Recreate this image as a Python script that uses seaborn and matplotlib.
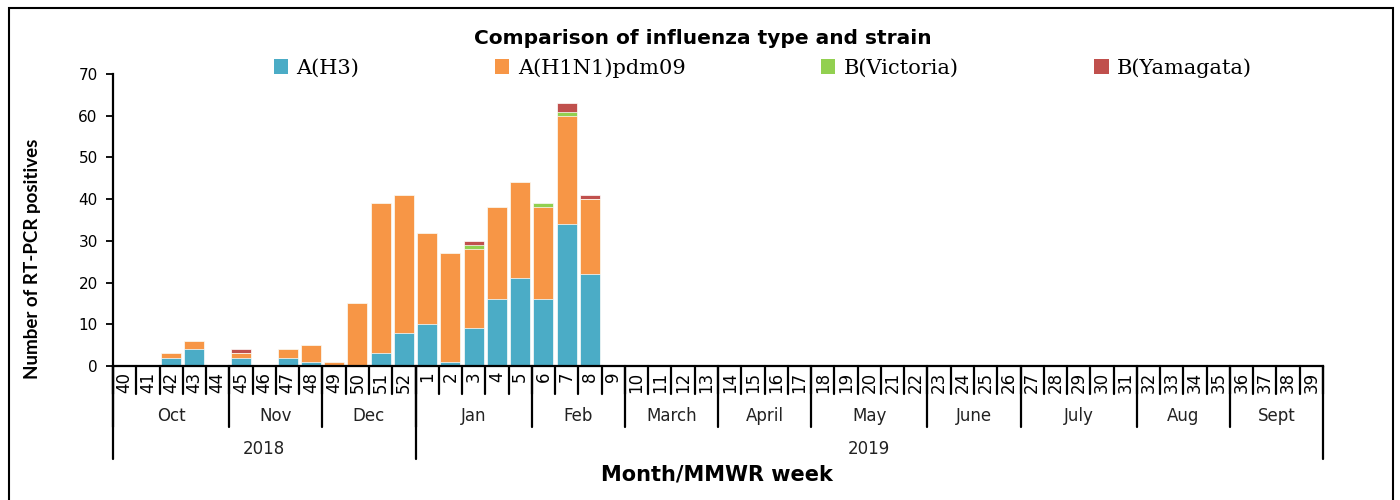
import numpy as np
import pandas as pd
import matplotlib.pyplot as plt
import matplotlib.transforms as mtransforms
from matplotlib.patches import Rectangle, Patch
import seaborn as sns

# MMWR weeks 40-52 (2018) and 1-39 (2019)
weeks = [str(w) for w in list(range(40, 53)) + list(range(1, 40))]
h3 = [0, 0, 2, 4, 0, 2, 0, 2, 1, 0, 0, 3, 8,
      10, 1, 9, 16, 21, 16, 34, 22] + [0] * 31
h1n1 = [0, 0, 1, 2, 0, 1, 0, 2, 4, 1, 15, 36, 33,
        22, 26, 19, 22, 23, 22, 26, 18] + [0] * 31
victoria = [0] * 13 + [0, 0, 1, 0, 0, 1, 1, 0] + [0] * 31
yamagata = [0] * 5 + [1] + [0] * 7 + [0, 0, 1, 0, 0, 0, 2, 1] + [0] * 31

months = ['Oct', 'Nov', 'Dec', 'Jan', 'Feb', 'March', 'April', 'May',
          'June', 'July', 'Aug', 'Sept']
month_weeks = [5, 4, 4, 5, 4, 4, 4, 5, 4, 5, 4, 4]
years = ['2018', '2019']
year_weeks = [13, 39]

series = ['A(H3)', 'A(H1N1)pdm09', 'B(Victoria)', 'B(Yamagata)']
colors = ['#4BACC6', '#F79646', '#92D050', '#C0504D']

df = pd.DataFrame({'week': weeks, 'A(H3)': h3, 'A(H1N1)pdm09': h1n1,
                   'B(Victoria)': victoria, 'B(Yamagata)': yamagata})
cum = df[series].cumsum(axis=1)

sns.set_theme(style='white')
plt.rcParams['font.family'] = ['DejaVu Sans']
for k in ['text.color', 'axes.labelcolor', 'xtick.color', 'ytick.color']:
    plt.rcParams[k] = 'black'

fig = plt.figure(figsize=(14, 5), dpi=100)
ax = fig.add_axes([113 / 1400, 134 / 500, 1210 / 1400, 292 / 500])

# stacked bars: draw cumulative totals from top layer down
for name, col in reversed(list(zip(series, colors))):
    sns.barplot(x=df['week'], y=cum[name], order=weeks, color=col,
                width=0.86, edgecolor='white', linewidth=0.5,
                saturation=1, ax=ax)

ax.set_ylim(0, 70)
ax.set_xlim(-0.5, len(weeks) - 0.5)
ax.set_yticks(range(0, 71, 10))
ax.tick_params(axis='y', direction='out', length=5, width=1.3, color='black',
               labelsize=11, pad=6, left=True)
ax.tick_params(axis='x', length=0, labelsize=12, pad=4)
ax.set_xticks(range(len(weeks)))
ax.set_xticklabels(weeks, rotation=90)
ax.set_xlabel('')
ax.set_ylabel('')
for s in ['top', 'right']:
    ax.spines[s].set_visible(False)
for s in ['left', 'bottom']:
    ax.spines[s].set_color('black')
    ax.spines[s].set_linewidth(1.6)

trans = mtransforms.blended_transform_factory(ax.transData, ax.transAxes)
lw = 1.6
for i in range(len(weeks) + 1):
    ax.plot([i - 0.5, i - 0.5], [0, -0.095], transform=trans, color='black',
            lw=lw, clip_on=False)
edges = np.concatenate([[0], np.cumsum(month_weeks)])
for i, m in enumerate(months):
    ax.plot([edges[i] - 0.5] * 2, [0, -0.21], transform=trans, color='black',
            lw=lw, clip_on=False)
    ax.text((edges[i] + edges[i + 1] - 1) / 2, -0.172, m, transform=trans,
            ha='center', va='center', fontsize=12, color='#222222')
yedges = np.concatenate([[0], np.cumsum(year_weeks)])
for i, y in enumerate(years):
    ax.plot([yedges[i] - 0.5] * 2, [0, -0.318], transform=trans,
            color='black', lw=lw, clip_on=False)
    ax.text((yedges[i] + yedges[i + 1] - 1) / 2, -0.284, y, transform=trans,
            ha='center', va='center', fontsize=12, color='#222222')
ax.plot([len(weeks) - 0.5] * 2, [0, -0.318], transform=trans, color='black',
        lw=lw, clip_on=False)

fig.text(0.502, 0.924, 'Comparison of influenza type and strain',
         ha='center', va='center', fontsize=14.5, fontweight='bold')
fig.text(0.023, 0.482, 'Number of RT-PCR positives', rotation=90,
         ha='center', va='center', fontsize=13.5, fontweight='bold',
         family='Lato')
fig.text(0.512, 0.052, 'Month/MMWR week', ha='center', va='center',
         fontsize=15, fontweight='bold')

handles = [Patch(facecolor=c, edgecolor='none') for c in colors]
fig.legend(handles, series, loc='center left', bbox_to_anchor=(0.182, 0.864),
           ncol=4, frameon=False, handlelength=0.7, handleheight=0.7,
           handletextpad=0.4, columnspacing=6.5,
           prop={'family': 'DejaVu Serif', 'size': 15})

fig.patches.append(Rectangle((9 / 1400, -0.05), 1384 / 1400, 1.034,
                             transform=fig.transFigure, fill=False,
                             edgecolor='black', lw=1.5))

fig.savefig('out.png', dpi=100)
